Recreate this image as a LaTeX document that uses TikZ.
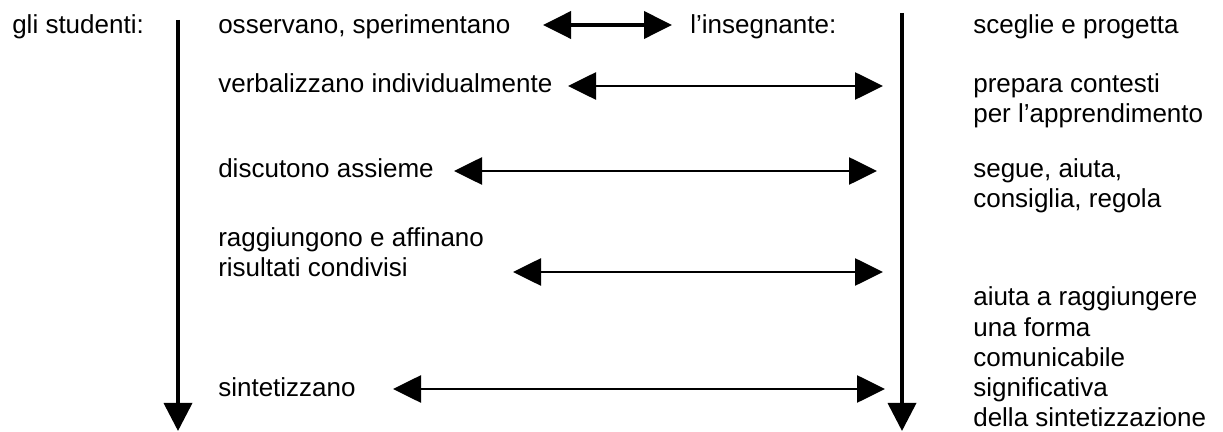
\documentclass[tikz,border=0pt]{standalone}
\usepackage{fontspec}
\setmainfont{Liberation Sans}
\usetikzlibrary{arrows.meta}
\tikzset{
  lbl/.style={anchor=base west,inner sep=0pt,font=\fontsize{18.5}{22}\selectfont},
  dbl/.style={{Triangle[length=0.7cm,width=0.68cm]}-{Triangle[length=0.7cm,width=0.68cm]},line width=1.4pt},
  tline/.style={-{Triangle[length=0.7cm,width=0.7cm]},line width=2.6pt}
}
\begin{document}
\begin{tikzpicture}[x=0.025cm,y=-0.025cm]
  \useasboundingbox (0,0) rectangle (1223,432);
  % left column
  \node[lbl] (stud) at (12,34) {gli studenti:};
  \node[lbl] (oss) at (218,34) {osservano, sperimentano};
  \node[lbl] (verb) at (218,93) {verbalizzano individualmente};
  \node[lbl] (disc) at (218,178) {discutono assieme};
  \node[lbl] (ragg) at (218,247) {raggiungono e affinano};
  \node[lbl] (ris) at (218,277) {risultati condivisi};
  \node[lbl] (sint) at (218,396) {sintetizzano};
  % right column
  \node[lbl] (ins) at (690,34) {l’insegnante:};
  \node[lbl] (scel) at (973,34) {sceglie e progetta};
  \node[lbl] (prep) at (973,93) {prepara contesti};
  \node[lbl] (appr) at (973,123) {per l’apprendimento};
  \node[lbl] (segue) at (973,178) {segue, aiuta,};
  \node[lbl] (cons) at (973,208) {consiglia, regola};
  \node[lbl] (aiuta) at (973,306) {aiuta a raggiungere};
  \node[lbl] (forma) at (973,336) {una forma};
  \node[lbl] (comu) at (973,366) {comunicabile};
  \node[lbl] (sign) at (973,396) {significativa};
  \node[lbl] (della) at (973,426) {della sintetizzazione};
  % time lines
  \coordinate (ltop) at (178,20);
  \coordinate (lbot) at (178,431);
  \coordinate (rtop) at (902,13);
  \coordinate (rbot) at (902,431);
  \draw[tline] (ltop) -- (lbot);
  \draw[tline] (rtop) -- (rbot);
  % exchanges
  \coordinate (a1) at (543,25);  \coordinate (b1) at (672,25);
  \coordinate (a2) at (568,86);  \coordinate (b2) at (883,86);
  \coordinate (a3) at (454,171); \coordinate (b3) at (877,171);
  \coordinate (a4) at (513,272); \coordinate (b4) at (883,272);
  \coordinate (a5) at (393,389); \coordinate (b5) at (885,389);
  \draw[dbl,line width=2.2pt] (a1) -- (b1);
  \draw[dbl] (a2) -- (b2);
  \draw[dbl] (a3) -- (b3);
  \draw[dbl] (a4) -- (b4);
  \draw[dbl] (a5) -- (b5);
\end{tikzpicture}
\end{document}
